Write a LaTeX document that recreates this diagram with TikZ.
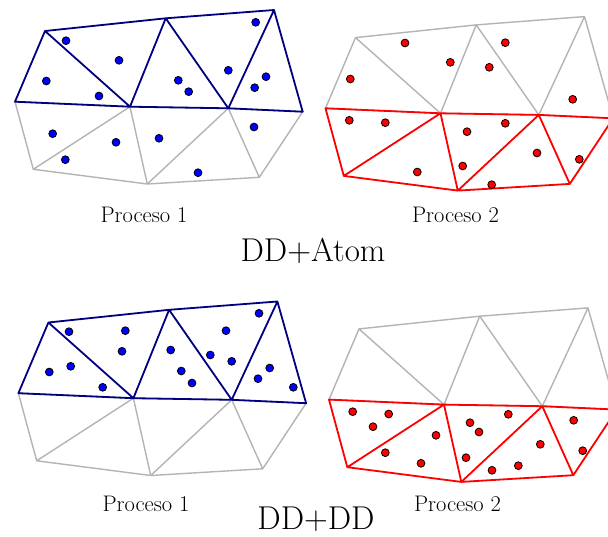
\documentclass[tikz,border=0pt]{standalone}
\definecolor{navy}{RGB}{0,0,128}
\definecolor{meshgray}{RGB}{180,180,180}
\newcommand\meshpts[1]{%
 \coordinate (#1A) at (45,31);
 \coordinate (#1B) at (165.7,18.3);
 \coordinate (#1C) at (274,10);
 \coordinate (#1D) at (15,101.7);
 \coordinate (#1E) at (130,106.7);
 \coordinate (#1F) at (228.3,108.3);
 \coordinate (#1G) at (302.7,111.7);
 \coordinate (#1H) at (33.3,169.3);
 \coordinate (#1I) at (147.3,184);
 \coordinate (#1J) at (259.3,177.3);}
\newcommand\upperedges[2]{\draw[#2] (#1D)--(#1A)--(#1B)--(#1C)--(#1G)--(#1F)--(#1E)--cycle (#1A)--(#1E)--(#1B)--(#1F)--(#1C);}
\newcommand\loweredges[2]{\draw[#2] (#1D)--(#1H)--(#1I)--(#1J)--(#1G)--(#1F)--(#1E)--cycle (#1H)--(#1E)--(#1I)--(#1F)--(#1J);}
\begin{document}
\begin{tikzpicture}[x=1pt,y=-1pt,
  blueline/.style={draw=navy,line width=1.8pt,line join=round},
  redline/.style={draw=red,line width=1.8pt,line join=round},
  grayline/.style={draw=meshgray,line width=1.4pt,line join=round},
  bdot/.style={fill=blue,draw=black,line width=0.8pt},
  rdot/.style={fill=red,draw=black,line width=0.8pt},
  lbl/.style={anchor=base,inner sep=0pt,font=\fontsize{22.5}{27}\selectfont},
  title/.style={anchor=base,inner sep=0pt,font=\fontsize{33}{40}\selectfont}]
\clip (0,0) rectangle (608,536);
\fill[white] (0,0) rectangle (608,536);
% panel 1 (top left)
\meshpts{p}
\loweredges{p}{grayline}
\upperedges{p}{blueline}
\foreach \x/\y in {66/40.7,119/60.3,46.3/81,99/96,178.3/80.3,188.7/91.7,228.3/70.3,255.7/22.3,266/76.7,254.7/87.7,52.7/133.7,116/142.3,65.3/159.7,159/138.3,198/172.7,254/127}
  \filldraw[bdot] (\x,\y) circle (3.9);
% panel 2 (top right)
\begin{scope}[shift={(310.5,6.6)}]
\meshpts{q}
\upperedges{q}{grayline}
\loweredges{q}{redline}
\end{scope}
\foreach \x/\y in {405/43,450.3/62.3,350.3/79,505.3/42.7,489.3/67.3,572.7/99.3,349.3/120.3,385.3/122.7,467/131.7,505.3/123.3,537/153,579.3/159.3,462.7/166,417.3/172,491.7/184.7}
  \filldraw[rdot] (\x,\y) circle (3.9);
% panel 3 (bottom left)
\begin{scope}[shift={(3.4,291.5)}]
\meshpts{r}
\loweredges{r}{grayline}
\upperedges{r}{blueline}
\end{scope}
\foreach \x/\y in {69/331.7,125.3/330.7,122/351.3,49.3/372,70.7/366.3,102.7/387.3,170.7/350,181.3/371,192/383,226/330.7,210.3/355,231.7/361.3,259/313.3,269.7/368,258/378.7,293.3/387.3}
  \filldraw[bdot] (\x,\y) circle (3.9);
% panel 4 (bottom right)
\begin{scope}[shift={(314,297.9)}]
\meshpts{s}
\upperedges{s}{grayline}
\loweredges{s}{redline}
\end{scope}
\foreach \x/\y in {352.7/411.7,388.7/414,373/426.7,436/435.3,385.3/452.7,421/463.3,470/422.7,479/432,508.3/414.3,540.3/444.3,466/457.7,492/470.3,518.3/465.7,573.7/420.3,582.7/450.7}
  \filldraw[rdot] (\x,\y) circle (3.9);
% labels
\node[lbl] (l1) at (144,222.3) {Proceso 1};
\node[lbl] (l2) at (455.5,222.3) {Proceso 2};
\node[title] (t1) at (313,261) {DD+Atom};
\node[lbl] (l3) at (146,511.7) {Proceso 1};
\node[lbl] (l4) at (457.5,511.7) {Proceso 2};
\node[title] (t2) at (316,529) {DD+DD};
\end{tikzpicture}
\end{document}
